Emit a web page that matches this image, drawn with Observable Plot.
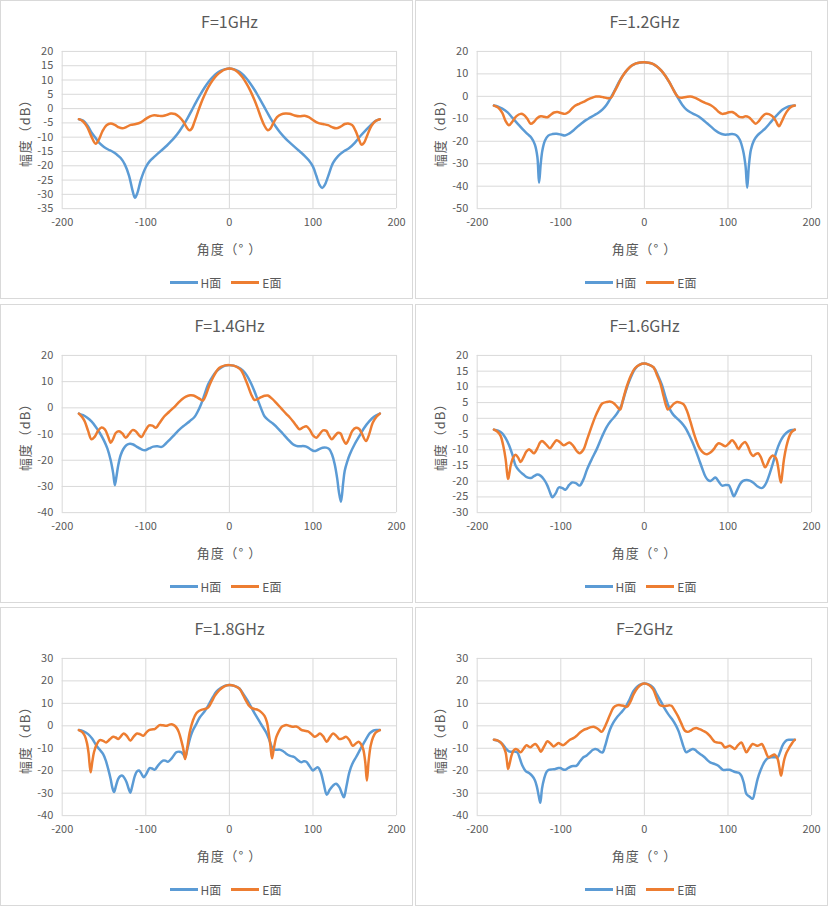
<!DOCTYPE html>
<html><head><meta charset="utf-8">
<script src="https://cdn.jsdelivr.net/npm/d3@7"></script>
<script src="https://cdn.jsdelivr.net/npm/@observablehq/plot@0.6"></script>
<style>
body{margin:0;background:#fff;font-family:"Microsoft YaHei","Noto Sans CJK SC",sans-serif;}
#root{position:relative;width:829px;height:907px;overflow:hidden;}
.panel{position:absolute;box-sizing:border-box;border:1px solid #d9d9d9;background:#fff;width:413px;height:299px;}
.title{position:absolute;left:61px;width:335px;top:10px;text-align:center;font-size:16px;color:#595959;line-height:20px;}
.panel svg{position:absolute;left:-1px;top:35px;}
.legend{position:absolute;left:57px;width:335px;top:272px;height:18px;display:flex;justify-content:center;align-items:center;font-size:12px;color:#595959;}
.item{display:flex;align-items:center;margin:0 5px;}
.sw{display:inline-block;width:28px;height:3px;margin-right:3px;}
</style>
</head><body><div id="root"></div>
<script>
const titles = ["F=1GHz","F=1.2GHz","F=1.4GHz","F=1.6GHz","F=1.8GHz","F=2GHz"];
const seriesNames = ["H面","E面"];
const seriesColors = ["#5B9BD5","#ED7D31"];
const xLabel = "角度（° ）";
const yLabel = "幅度（dB）";
const xTicks = [-200,-100,0,100,200];
const yTicks1 = [20,15,10,5,0,-5,-10,-15,-20,-25,-30,-35];
const yTicks2 = [20,10,0,-10,-20,-30,-40,-50];
const yTicks3 = [20,10,0,-10,-20,-30,-40];
const yTicks4 = [20,15,10,5,0,-5,-10,-15,-20,-25,-30];
const yTicks5 = [30,20,10,0,-10,-20,-30,-40];
const yTicks6 = [30,20,10,0,-10,-20,-30,-40];

const H_1GHz = [[-180,-3.7],[-175,-4.2],[-170,-5.8],[-165,-8.3],[-160,-10.3],[-155,-12.2],[-150,-13.4],[-145,-14.3],[-140,-15],[-135,-16],[-130,-17.3],[-125,-19.6],[-120,-23.5],[-116,-28.5],[-113,-31.2],[-110,-29.5],[-106,-25],[-100,-20.5],[-95,-18.3],[-90,-16.9],[-85,-15.6],[-80,-14.3],[-75,-13],[-70,-11.5],[-65,-9.9],[-60,-8],[-55,-5.8],[-50,-3.3],[-45,-0.6],[-40,2.2],[-35,4.8],[-30,7.2],[-25,9.3],[-20,11],[-15,12.4],[-10,13.3],[-5,13.8],[0,14],[5,13.8],[10,13.2],[15,12.2],[20,10.7],[25,8.8],[30,6.6],[35,4.1],[40,1.5],[45,-1.2],[50,-3.8],[55,-6.1],[60,-8.1],[65,-9.8],[70,-11.3],[75,-12.6],[80,-13.9],[85,-15.2],[90,-16.5],[95,-18.1],[100,-20.3],[104,-23.5],[108,-26.8],[111,-27.8],[114,-26.8],[118,-23.8],[124,-19],[130,-16.6],[137,-14.9],[143,-13.9],[150,-12],[157,-9.5],[163,-7.6],[170,-5.5],[175,-4.3],[180,-3.7]];
const E_1GHz = [[-180,-3.7],[-175,-4.5],[-170,-6.5],[-165,-9.8],[-160,-12.3],[-156,-10.8],[-152,-8],[-147,-5.8],[-142,-5.2],[-137,-5.7],[-132,-6.6],[-128,-6.9],[-123,-6.4],[-118,-5.7],[-112,-5.4],[-106,-4.8],[-100,-3.6],[-95,-2.7],[-90,-2.3],[-85,-2.5],[-80,-2.6],[-75,-2.2],[-70,-1.7],[-65,-1.9],[-60,-2.9],[-55,-4.6],[-51,-6.6],[-48,-7.6],[-45,-7],[-42,-4.8],[-38,-1.5],[-34,1.8],[-30,4.6],[-25,7.6],[-20,9.9],[-15,11.7],[-10,12.9],[-5,13.7],[0,14],[5,13.7],[10,12.8],[15,11.2],[20,9],[25,6.3],[30,3],[34,0],[38,-3.3],[42,-6],[46,-7.6],[49,-7],[53,-4.8],[57,-3],[62,-2],[67,-1.7],[72,-1.8],[78,-2.4],[84,-2.7],[90,-2.5],[95,-3],[100,-4],[106,-5],[112,-5.4],[118,-5.8],[123,-6.5],[128,-6.9],[133,-6.3],[138,-5.4],[142,-5.2],[147,-5.8],[151,-7.8],[155,-10.8],[158,-12.6],[161,-12],[165,-9.3],[170,-6],[175,-4.3],[180,-3.7]];

const H_1_2GHz = [[-180,-4.1],[-175,-4.6],[-170,-5.5],[-164,-7],[-158,-9.5],[-152,-12],[-146,-14.5],[-140,-16.7],[-135,-18.5],[-131,-21.5],[-128,-27],[-126,-38.5],[-124,-30],[-122,-24],[-119,-19.8],[-115,-17.5],[-110,-16.8],[-105,-16.7],[-100,-17],[-95,-17.4],[-90,-16.6],[-85,-15.2],[-80,-13.5],[-75,-12],[-70,-10.6],[-65,-9.5],[-60,-8.4],[-55,-7.3],[-50,-5.8],[-45,-3.6],[-40,-0.5],[-35,3],[-30,6.7],[-25,9.6],[-20,12],[-15,13.7],[-10,14.7],[-5,15.1],[0,15.2],[5,15],[10,14.5],[15,13.3],[20,11.6],[25,9.2],[30,6.2],[35,2.8],[40,-0.6],[45,-3.6],[50,-5.8],[55,-7.1],[60,-8],[65,-9],[70,-10.4],[75,-12],[80,-13.6],[85,-15.2],[90,-16.4],[95,-17],[100,-17],[105,-16.8],[110,-17.3],[114,-19.2],[118,-24],[121,-31],[123,-40.7],[125,-31],[127.5,-23.7],[131,-19.7],[135,-17.5],[140,-15.8],[145,-14.1],[150,-12],[155,-9.8],[160,-7.8],[165,-6],[170,-4.9],[175,-4.3],[180,-4.1]];
const E_1_2GHz = [[-180,-4.1],[-175,-5],[-170,-7.4],[-166,-11],[-162,-12.9],[-158,-11.3],[-153,-8.8],[-148,-7.8],[-144,-8.3],[-140,-10],[-136,-12.2],[-132,-11.3],[-128,-9.6],[-124,-8.9],[-120,-9.1],[-116,-9.3],[-112,-8.2],[-108,-7.2],[-104,-7],[-99,-7.5],[-95,-7.8],[-91,-7.1],[-87,-5.6],[-83,-4.2],[-78,-3.3],[-73,-2.5],[-68,-1.5],[-63,-0.7],[-58,-0.1],[-54,-0.1],[-49,-0.4],[-44,-0.8],[-40,-0.6],[-36,2],[-32,4.8],[-28,7.8],[-24,10.2],[-20,12],[-15,13.7],[-10,14.7],[-5,15.1],[0,15.2],[5,15],[10,14.5],[15,13.3],[20,11.6],[25,9.2],[30,6.2],[34,3.4],[38,0.8],[41,-0.4],[45,-0.6],[50,-0.3],[55,-0.1],[60,-0.6],[65,-1.5],[70,-2.5],[75,-3.2],[80,-4.1],[85,-5.5],[89,-7],[93,-7.8],[97,-7.6],[101,-7.1],[105,-7],[109,-7.8],[113,-9],[117,-9.3],[121,-8.9],[125,-9.3],[129,-10.8],[133,-12.2],[137,-11],[141,-9],[145,-7.8],[149,-7.9],[153,-8.8],[157,-10.8],[161,-13.3],[164,-11.5],[168,-8.3],[172,-6],[176,-4.6],[180,-4.1]];

const H_1_4GHz = [[-180,-2.2],[-175,-2.8],[-170,-3.8],[-165,-5.2],[-160,-7.2],[-155,-9.6],[-150,-12.5],[-146,-15.5],[-142,-20],[-139,-25],[-137,-29.5],[-135,-26],[-133,-22],[-130,-18],[-127,-15.8],[-123,-14.2],[-119,-13.7],[-115,-14],[-111,-14.8],[-106,-15.7],[-101,-16.2],[-96,-15.5],[-91,-14.8],[-86,-14.7],[-81,-14.9],[-76,-13.6],[-71,-12],[-65,-10],[-59.5,-8.2],[-53,-6.5],[-47.5,-5.1],[-42,-3.6],[-38,-1.5],[-34,1.3],[-30,4.8],[-25.5,8.9],[-20,12],[-15.5,13.9],[-10,15.3],[-5,16.1],[0,16.3],[5,16.1],[10,15.5],[16,14.3],[21,12.3],[26,9.3],[30,6.3],[34,3],[38,-0.3],[42,-3.2],[47,-4.8],[52,-6],[58,-7.8],[64,-9.9],[70,-12],[76,-13.9],[80,-14.5],[84,-14.7],[88,-14.6],[92,-14.8],[97,-15.8],[101.5,-16.5],[106,-16],[111.5,-15.2],[116,-15.2],[119.5,-15.8],[123,-18],[126,-21.5],[129,-27],[131,-32],[133.5,-35.8],[136,-29],[138,-24],[141,-20.5],[144,-17.8],[150,-13.8],[155.5,-10.8],[161,-7.8],[167.5,-5.1],[173,-3.4],[180,-2.2]];
const E_1_4GHz = [[-180,-2.2],[-176,-3.6],[-173,-5.2],[-169,-8.8],[-165,-12],[-161,-11],[-157,-8.7],[-153,-7.5],[-149,-8.2],[-145,-11],[-142,-13.3],[-139,-11.8],[-136,-9.6],[-132,-8.9],[-128,-9.8],[-124,-11.4],[-120,-10],[-116,-8.5],[-112,-8.9],[-108,-10.5],[-105,-11.1],[-101,-9],[-96,-6.7],[-92,-6.8],[-88,-7.6],[-84,-6],[-78,-3.3],[-72,-1.5],[-67,0],[-62,1.6],[-57,3.2],[-52,4.3],[-47,4.8],[-43,4.7],[-39,4.1],[-35,3.3],[-31.5,2.8],[-28,5],[-24,8.5],[-20,11.3],[-14,14.6],[-10,15.6],[-5,16.2],[0,16.3],[5,16.1],[10,15.4],[14,14.4],[18,11.8],[22,8.6],[26,5.2],[30,3],[34,3.4],[38,4.1],[42,4.6],[46,4.7],[51,3.5],[56,1.9],[62,-0.2],[68,-2.3],[72,-3.6],[76,-5.1],[80,-6.8],[84,-8.2],[88,-7.5],[92,-7],[96,-8.3],[100,-10.5],[104,-11.4],[108,-10],[112,-8.6],[116,-8.8],[119,-10.5],[122.5,-12],[126,-10.8],[130,-9.5],[133,-9.8],[136,-12],[139.5,-13.7],[143,-11.8],[147,-8.8],[151.5,-7.6],[155,-8],[158,-9.5],[163.5,-12.7],[167,-10.3],[171.5,-5.7],[176,-3.4],[180,-2.2]];

const H_1_6GHz = [[-180,-3.6],[-175,-3.9],[-170,-4.8],[-166,-6.3],[-162,-8.5],[-158,-11.5],[-154,-15.1],[-150,-16.6],[-145,-17.8],[-140,-18.8],[-136,-19],[-132,-18.4],[-128,-17.9],[-124,-18.3],[-120,-19.5],[-116,-21.4],[-113,-23.5],[-110,-25.1],[-106,-23.8],[-102.5,-22],[-98,-22.2],[-94.5,-22.7],[-90,-21.2],[-86.5,-20.4],[-82,-20.6],[-77.5,-21.4],[-73,-19.5],[-68.5,-16.2],[-63,-13],[-57,-9.8],[-51,-6],[-45,-2.7],[-40,-0.8],[-35,0.7],[-31,2.3],[-27,4.4],[-23,8],[-19,11.2],[-15,13.8],[-11,15.8],[-6,17],[0,17.4],[5,17.1],[11,16.2],[16,13.8],[21,10.6],[25,7],[28,4.5],[31,2.6],[35,1],[39,0],[44,-1.3],[49,-3],[53,-5],[57,-7.3],[61,-9.9],[65,-12.8],[69,-15.8],[73,-18.5],[76,-19.6],[79,-19.9],[82,-19.4],[85,-18.8],[89,-20.2],[93,-21.4],[97,-21.2],[101,-21.3],[104,-23],[107,-24.8],[110,-23.4],[114.5,-20.9],[118,-19.9],[122.5,-19.6],[126,-19.8],[130,-20.4],[135,-21.6],[140,-22.2],[143,-21.7],[146,-20.4],[150,-17.5],[154,-14.1],[158,-10.5],[162,-7.7],[166,-5.8],[170,-4.6],[175,-3.8],[180,-3.6]];
const E_1_6GHz = [[-180,-3.6],[-176,-4.2],[-172,-5.6],[-169,-8.5],[-166,-13],[-164,-18],[-163,-19.3],[-161.5,-17.5],[-160,-15.1],[-157,-12.5],[-154,-11.6],[-151,-12.5],[-148,-13.9],[-145,-12.6],[-141,-10.5],[-138,-9.8],[-135,-10.5],[-132,-11.1],[-128,-9.5],[-125,-7.8],[-122.5,-7.2],[-118,-8.2],[-113,-9.5],[-109,-8.2],[-105,-7],[-101,-7.6],[-96.5,-8.6],[-93,-8.1],[-89.5,-7.7],[-85,-8.8],[-81,-10.4],[-77.5,-11.1],[-73,-10],[-68.5,-6.7],[-63,-2.5],[-58.5,0.7],[-55,2.7],[-50.5,4.7],[-45,5.2],[-40.5,5.3],[-37,4.9],[-33,3.8],[-29,2.8],[-26,5.5],[-21,10.2],[-16,13.7],[-11,16],[-6,17],[0,17.4],[5,17.1],[11,16.2],[15,13.8],[19,11.2],[23,7],[26,4],[28,2.8],[31,3.4],[35,4.6],[39,5.2],[43,5],[47,4.4],[51,2.3],[55,-1],[59,-4.6],[63,-7.7],[66,-9.5],[69,-10.6],[72,-11.2],[75,-11.4],[79,-10.9],[83,-9.8],[86,-8.6],[89,-7.9],[93,-8.4],[97,-8.9],[101,-8],[105,-7],[109,-8.2],[112.5,-9.8],[116,-8.5],[120.5,-7.5],[124,-9],[127,-11],[130,-12],[133,-11.4],[136,-11.1],[139,-12.2],[142,-14.3],[144.5,-15.6],[147,-14.6],[150,-12.8],[153.5,-11.8],[156,-12.2],[158,-13],[160,-15.5],[162,-19],[163.5,-20.4],[165,-17.5],[167,-13],[170,-8.8],[173,-6],[176,-4.4],[180,-3.6]];

const H_1_8GHz = [[-180,-1.9],[-175,-2.4],[-169,-3.7],[-164,-5.8],[-159,-8.9],[-155,-10.7],[-151,-12.6],[-148,-15.3],[-145,-19.2],[-142,-23.8],[-140,-27.5],[-138,-29.5],[-135.5,-26.5],[-133,-23.6],[-130.5,-22.4],[-128,-22.2],[-125.5,-23.3],[-123,-25.1],[-120.5,-28],[-118.5,-29.8],[-116,-26.5],[-113,-22.2],[-110.5,-20.3],[-108,-19.9],[-105,-21.5],[-102.5,-22.9],[-99,-21.2],[-95.5,-18.8],[-92.5,-19],[-89.5,-19.6],[-85,-17.5],[-79.5,-15.5],[-76.5,-15.5],[-73.5,-16],[-69,-14.5],[-63.5,-11.8],[-60,-11.5],[-57.5,-11.8],[-55,-12.8],[-53,-14],[-50,-10],[-47,-5.5],[-44,-2.3],[-40,0.5],[-35.5,3.7],[-30,6.3],[-25.5,8.9],[-20,12.6],[-15.5,15.2],[-10,16.9],[-5,17.9],[0,18.2],[6,17.8],[12,16.6],[17,14],[22,11.1],[27,7.7],[32,4.4],[38,0.7],[44,-3],[48,-6.5],[52,-10.3],[56,-10.7],[60,-10.6],[64,-11.2],[68,-12.4],[72,-13.3],[75,-13.6],[78,-14],[82,-15.3],[86,-16.2],[89,-15.8],[92,-16],[96,-18],[100,-19.9],[103,-19],[106,-18.5],[108,-19.5],[110,-21.4],[113,-26],[116.5,-30.7],[120,-28.5],[124,-26.6],[127.5,-25.8],[131.5,-27.3],[134.5,-30],[137,-31.8],[140,-27],[143.5,-20.7],[147,-17],[151.5,-14],[157,-10.2],[163.5,-5.9],[168,-3.3],[172,-2.2],[176,-1.9],[180,-1.9]];
const E_1_8GHz = [[-180,-1.9],[-176,-2.8],[-173,-4.4],[-170.5,-7.5],[-168.5,-12],[-166,-20.7],[-164,-16],[-162,-11.8],[-159,-8.5],[-155,-6.4],[-151,-6.7],[-147.5,-7.4],[-143,-6],[-139,-4.9],[-136,-5.2],[-133,-5.9],[-130,-4.8],[-126.5,-3.4],[-122.5,-4.6],[-118.5,-6.6],[-114.5,-4.8],[-110.5,-3.4],[-106.5,-3.8],[-103,-4.4],[-99,-2.8],[-95.5,-1.8],[-92.5,-1.6],[-89.5,-1.5],[-86.5,-0.6],[-83.5,0.3],[-79.5,0.2],[-75.5,0],[-72.5,0.4],[-69.5,0.7],[-66.5,0.3],[-63.5,-0.7],[-60.5,-2.8],[-57.5,-6.6],[-55,-10.5],[-53,-14.8],[-50.5,-10],[-47.5,-3],[-43.5,2.5],[-39.5,5.6],[-36.5,6.6],[-33.5,7.1],[-29.5,7.5],[-25.5,8.1],[-21.5,10.5],[-17.5,13.3],[-12,15.9],[-6,17.6],[0,18.2],[6,17.8],[12,16.6],[16,14],[20,11.1],[23,9.2],[26,8.1],[30,7.5],[34,7.1],[38,6.1],[42,4.4],[45,1.5],[47,-3],[49,-8.5],[51,-14.5],[53,-10.5],[56,-5.2],[59,-2.6],[62,-0.7],[65,0],[68,0.4],[71,0.1],[74,-0.3],[77,-0.4],[80,-0.3],[83,-0.9],[86,-1.8],[90,-2.2],[94,-2.5],[98,-3.6],[102,-4.9],[105,-4.3],[108.5,-3.4],[112,-4.6],[116.5,-7.1],[120,-5.2],[124,-3.4],[128,-4.5],[131.5,-5.9],[135.5,-5.6],[139.5,-4.9],[143.5,-6.3],[147.5,-8.9],[151,-8],[154.5,-7.1],[157.5,-8.2],[160,-10.3],[162.5,-16],[164.5,-24.4],[166.5,-16],[169,-8.9],[172,-5],[175,-3],[180,-1.9]];

const H_2GHz = [[-180,-6.2],[-175,-6.7],[-170,-8.1],[-166,-10],[-162,-11.4],[-159,-11.5],[-156,-11.4],[-152,-11.8],[-149,-14.5],[-146,-17.7],[-142,-20.2],[-138,-21],[-134.5,-22.2],[-131,-24.2],[-128.5,-27.3],[-126.5,-31],[-124.5,-34.3],[-122.5,-28],[-120,-23.6],[-117,-20.5],[-114.5,-19.6],[-110,-19.4],[-106.5,-19.2],[-103,-18.8],[-100.5,-18.8],[-97.5,-19.4],[-95,-19.6],[-91,-18.7],[-87,-18],[-84,-17.9],[-81,-17.7],[-77,-15.8],[-73,-14],[-69,-13.2],[-65,-11.8],[-62,-10.8],[-59,-10.3],[-56,-10.6],[-53,-11.5],[-50,-11.8],[-47,-9],[-44,-5],[-41,-1.5],[-37,1.5],[-33,3.7],[-28,5.8],[-23,8.1],[-18,11.5],[-13,15.5],[-8,17.6],[-3,18.6],[0,18.8],[5,18.4],[10.5,17],[15,14],[20.5,10.3],[24.5,7.5],[28.5,5.2],[33,3],[38,0],[41,-2.5],[44,-5.9],[47,-9.5],[50,-11.8],[54,-11],[58,-10.3],[61,-10.8],[64,-11.8],[68,-12.9],[72,-14],[76,-15.5],[80,-16.5],[84,-17],[88,-17.7],[91,-18.7],[94,-19.6],[98,-19.6],[102,-19.6],[106,-20.2],[110,-20.7],[113,-20.9],[116,-22.2],[119,-25.5],[122,-30.3],[126,-31.6],[129.5,-32.5],[132.5,-28.5],[135.5,-23.6],[139,-19.8],[143.5,-16.2],[147,-14.6],[151.5,-14],[155.5,-14],[159.5,-14],[162,-12],[165,-9],[167.5,-7.4],[170.5,-6.4],[173.5,-6.2],[180,-6.2]];
const E_2GHz = [[-180,-6.2],[-176,-6.5],[-172,-7.4],[-169,-9],[-166,-11.8],[-164.5,-15.5],[-163,-19.2],[-161,-16.5],[-159,-13.3],[-156.5,-11],[-154,-10.3],[-151,-10.9],[-148,-11.8],[-144.5,-10.2],[-141,-8.6],[-138.5,-9.2],[-136.5,-9.6],[-133.5,-8.7],[-130.5,-8.1],[-127,-9.5],[-124,-11.5],[-120,-9.2],[-116,-6.9],[-112,-8],[-108.5,-9.2],[-105.5,-8.4],[-102.5,-7.7],[-100,-8.2],[-97,-8.6],[-93,-7.5],[-89,-6.2],[-85,-5.5],[-81,-4.4],[-77,-3],[-73,-1.9],[-68,-1.2],[-64,-0.6],[-61,-0.4],[-58,-0.8],[-55,-1.5],[-51,-2.7],[-48,-1],[-45,1.5],[-41,5],[-37,8.1],[-33,9.1],[-29,9.2],[-25,8.9],[-21,8.4],[-17,10.5],[-13,14],[-8,17],[-3,18.6],[0,18.8],[5,18.3],[10.5,16.2],[14.5,12.5],[18.5,9.2],[22.5,8.8],[26.5,8.9],[30,9.1],[32.5,8.9],[36,7],[40,4.4],[44,1.2],[48.5,-2.2],[52,-2.7],[56,-2],[59,-1.3],[62,-1],[66,-1.5],[70,-2.2],[74,-3],[78,-4.4],[81,-5.8],[84,-7.1],[88,-7.5],[92,-7.7],[94,-8.5],[96,-9.6],[99,-9.3],[102,-8.9],[105,-9.5],[108,-10.3],[112,-8.6],[116,-7.4],[119,-9.5],[122,-11.8],[125.5,-10],[129.5,-8.1],[132.5,-8.5],[135.5,-8.9],[138,-8.5],[140.5,-8.1],[144,-10.5],[148.5,-14],[152,-13.4],[155.5,-12.8],[157.5,-13.5],[159.5,-14.8],[161.5,-18.5],[163.5,-22.2],[165.5,-18.5],[167.5,-14.8],[170,-12],[173.5,-9.6],[177,-7.5],[180,-6.2]];

const hSeries = [H_1GHz, H_1_2GHz, H_1_4GHz, H_1_6GHz, H_1_8GHz, H_2GHz];
const eSeries = [E_1GHz, E_1_2GHz, E_1_4GHz, E_1_6GHz, E_1_8GHz, E_2GHz];
const yTickSets = [yTicks1, yTicks2, yTicks3, yTicks4, yTicks5, yTicks6];

const colLeft = [0, 415];
const rowTop = [0, 304, 607];
const FONT = '"Microsoft YaHei","Noto Sans CJK SC",sans-serif';
const root = document.getElementById("root");

titles.forEach((t, i) => {
  const panel = document.createElement("div");
  panel.className = "panel";
  panel.style.left = colLeft[i % 2] + "px";
  panel.style.top = rowTop[Math.floor(i / 2)] + "px";
  const title = document.createElement("div");
  title.className = "title";
  title.textContent = t;
  panel.appendChild(title);

  const yt = yTickSets[i];
  const yDom = [d3.min(yt), d3.max(yt)];
  const svg = Plot.plot({
    width: 413, height: 230,
    marginLeft: 62, marginRight: 15, marginTop: 15, marginBottom: 57,
    style: {fontFamily: FONT, fontSize: "11px", color: "#595959", background: "transparent", overflow: "visible"},
    x: {domain: [-200, 200], ticks: xTicks, tickSize: 0, tickPadding: 10, label: null, tickFormat: d => String(d)},
    y: {domain: yDom, ticks: yt, tickSize: 0, tickPadding: 9, label: null, tickFormat: d => String(d)},
    marks: [
      Plot.gridX(xTicks, {stroke: "#d9d9d9", strokeOpacity: 1}),
      Plot.gridY(yt, {stroke: "#d9d9d9", strokeOpacity: 1}),
      Plot.line(hSeries[i], {x: d => d[0], y: d => d[1], stroke: seriesColors[0], strokeWidth: 2.5, curve: "catmull-rom"}),
      Plot.line(eSeries[i], {x: d => d[0], y: d => d[1], stroke: seriesColors[1], strokeWidth: 2.5, curve: "catmull-rom"}),
      Plot.text([xLabel], {text: d => d, frameAnchor: "bottom", dy: 41, lineAnchor: "middle", textAnchor: "middle", fontSize: 13, fill: "#595959"}),
      Plot.text([yLabel], {text: d => d, frameAnchor: "left", dx: -37, rotate: -90, lineAnchor: "middle", textAnchor: "middle", fontSize: 13, fill: "#595959"})
    ]
  });
  svg.querySelectorAll("text").forEach(el => {
    if (el.textContent === xLabel || el.textContent === yLabel) el.style.letterSpacing = "1px";
  });
  panel.appendChild(svg);

  const legend = document.createElement("div");
  legend.className = "legend";
  seriesNames.forEach((n, k) => {
    const item = document.createElement("span");
    item.className = "item";
    const sw = document.createElement("span");
    sw.className = "sw";
    sw.style.background = seriesColors[k];
    const lb = document.createElement("span");
    lb.textContent = n;
    item.appendChild(sw); item.appendChild(lb);
    legend.appendChild(item);
  });
  panel.appendChild(legend);
  root.appendChild(panel);
});
</script>
</body></html>
